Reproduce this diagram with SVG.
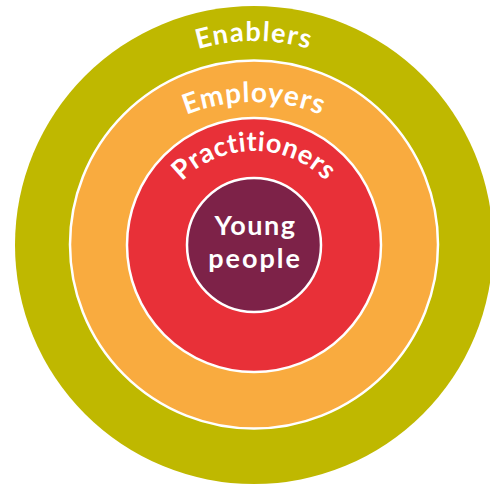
<svg xmlns="http://www.w3.org/2000/svg" width="490" height="485" viewBox="0 0 490 485">
<style>
text{font-family:"Lato","Open Sans",sans-serif;font-weight:700;fill:#fff;text-anchor:middle}
.r{stroke:#fff;stroke-width:2.5}
</style>
<defs>
<path id="a1" d="M54 246A200 205 0 0 1 454 246"/>
<path id="a2" d="M92 244A162 142 0 0 1 416 244"/>
<path id="a3" d="M158 241A96 90 0 0 1 350 241"/>
</defs>
<rect width="490" height="485" fill="#fff"/>
<g id="enablers"><circle cx="254" cy="245" r="239" fill="#bfb800"/>
<text font-size="27" letter-spacing="1.4"><textPath href="#a1" startOffset="50%">Enablers</textPath></text></g>
<g id="employers"><circle class="r" cx="254" cy="244.500" r="184" fill="#f9ab3f"/>
<text font-size="28" letter-spacing="1"><textPath href="#a2" startOffset="50%">Employers</textPath></text></g>
<g id="practitioners"><circle class="r" cx="254" cy="245" r="127" fill="#e83038"/>
<text font-size="27" letter-spacing=".5"><textPath href="#a3" startOffset="50%">Practitioners</textPath></text></g>
<g id="young-people"><circle class="r" cx="254" cy="245" r="67" fill="#7d2248"/>
<text font-size="27" letter-spacing="1.500" x="255.500" y="235">Young</text>
<text font-size="27" letter-spacing="2" x="255" y="268">people</text></g>
</svg>
